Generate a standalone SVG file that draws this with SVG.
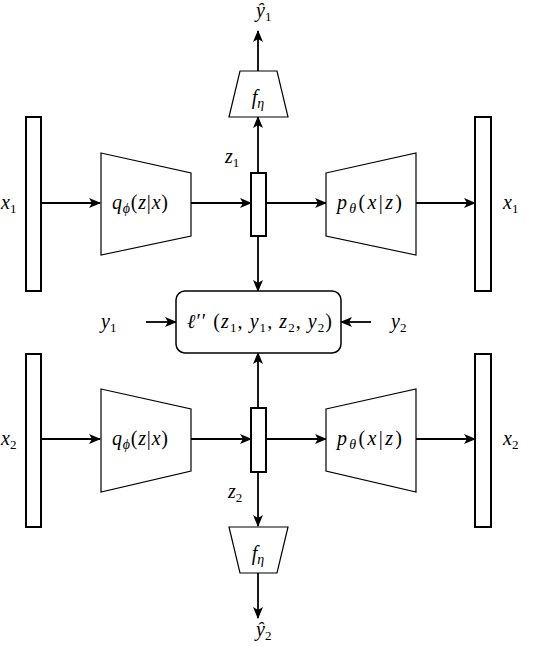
<svg xmlns="http://www.w3.org/2000/svg" width="548" height="646" viewBox="0 0 548 646">
<style>
.bar{fill:#fff;stroke:#000;stroke-width:2}
.trap{fill:#fff;stroke:#000;stroke-width:1.2;stroke-linejoin:miter}
.conn{fill:none;stroke:#000;stroke-width:1.8}
.lbl{font-family:"Liberation Serif",serif;font-size:20px;font-style:italic;fill:#000}
.sub{font-style:normal;font-size:13px}
.sg{font-style:italic;font-size:14px}
.up{font-style:normal}
</style>
<defs>
<marker id="ah" viewBox="0 0 12 10" refX="11" refY="5" markerWidth="12" markerHeight="10" markerUnits="userSpaceOnUse" orient="auto">
<path d="M0,0 L12,5 L0,10 L3,5 z" fill="#000"/>
</marker>
</defs>

<g id="connectors">
<line class="conn" x1="41" y1="203" x2="100" y2="203" marker-end="url(#ah)"/>
<line class="conn" x1="191" y1="203" x2="251" y2="203" marker-end="url(#ah)"/>
<line class="conn" x1="266" y1="203" x2="326" y2="203" marker-end="url(#ah)"/>
<line class="conn" x1="416" y1="203" x2="475" y2="203" marker-end="url(#ah)"/>
<line class="conn" x1="258" y1="173" x2="258" y2="117" marker-end="url(#ah)"/>
<line class="conn" x1="258" y1="71" x2="258" y2="31" marker-end="url(#ah)"/>
<line class="conn" x1="258" y1="236" x2="258" y2="291" marker-end="url(#ah)"/>
<line class="conn" x1="146" y1="322" x2="176" y2="322" marker-end="url(#ah)"/>
<line class="conn" x1="371" y1="322" x2="341" y2="322" marker-end="url(#ah)"/>
<line class="conn" x1="41" y1="439" x2="100" y2="439" marker-end="url(#ah)"/>
<line class="conn" x1="191" y1="439" x2="251" y2="439" marker-end="url(#ah)"/>
<line class="conn" x1="266" y1="439" x2="326" y2="439" marker-end="url(#ah)"/>
<line class="conn" x1="416" y1="439" x2="475" y2="439" marker-end="url(#ah)"/>
<line class="conn" x1="258" y1="408" x2="258" y2="353" marker-end="url(#ah)"/>
<line class="conn" x1="258" y1="472" x2="258" y2="526" marker-end="url(#ah)"/>
<line class="conn" x1="258" y1="573" x2="258" y2="618" marker-end="url(#ah)"/>
</g>

<g id="yhat1"><text class="lbl" x="256" y="17">ŷ<tspan class="sub" dy="4">1</tspan></text></g>
<g id="feta1">
<polygon class="trap" points="240,71 277,71 288,117 229,117"/>
<text class="lbl" x="258" y="104" text-anchor="middle">f<tspan class="sg" dy="4">η</tspan></text>
</g>

<g id="x1in">
<rect class="bar" x="26" y="117" width="15" height="174"/>
<text class="lbl" x="1" y="209">x<tspan class="sub" dy="4">1</tspan></text>
</g>
<g id="enc1">
<polygon class="trap" points="101,153 191,173 191,236 101,255"/>
<text class="lbl" x="112" y="209" textLength="56" lengthAdjust="spacing">q<tspan class="sg" dy="4">ϕ</tspan><tspan class="up" dy="-4">(</tspan>z<tspan class="up">|</tspan>x<tspan class="up">)</tspan></text>
</g>
<g id="z1">
<rect class="bar" x="251" y="173" width="15" height="63"/>
<text class="lbl" x="225" y="163">z<tspan class="sub" dy="4">1</tspan></text>
</g>
<g id="dec1">
<polygon class="trap" points="326,173 416,153 416,255 326,236"/>
<text class="lbl" x="337" y="209" textLength="65" lengthAdjust="spacing">p<tspan class="sg" dy="4">θ</tspan><tspan class="up" dy="-4">(</tspan>x<tspan class="up">|</tspan>z<tspan class="up">)</tspan></text>
</g>
<g id="x1out">
<rect class="bar" x="475" y="117" width="16" height="174"/>
<text class="lbl" x="503" y="209">x<tspan class="sub" dy="4">1</tspan></text>
</g>

<g id="loss">
<rect x="176" y="291" width="165" height="62" rx="9" ry="9" fill="#fff" stroke="#000" stroke-width="1.5"/>
<text class="lbl" x="187" y="328" textLength="145" lengthAdjust="spacing" font-size="21">ℓ<tspan class="up">′′ (</tspan>z<tspan class="sub" dy="4">1</tspan><tspan class="up" dy="-4">, </tspan>y<tspan class="sub" dy="4">1</tspan><tspan class="up" dy="-4">, </tspan>z<tspan class="sub" dy="4">2</tspan><tspan class="up" dy="-4">, </tspan>y<tspan class="sub" dy="4">2</tspan><tspan class="up" dy="-4">)</tspan></text>
</g>
<g id="y1"><text class="lbl" x="101" y="328">y<tspan class="sub" dy="4">1</tspan></text></g>
<g id="y2"><text class="lbl" x="391" y="328">y<tspan class="sub" dy="4">2</tspan></text></g>

<g id="x2in">
<rect class="bar" x="26" y="354" width="15" height="173"/>
<text class="lbl" x="1" y="445">x<tspan class="sub" dy="4">2</tspan></text>
</g>
<g id="enc2">
<polygon class="trap" points="101,389 191,409 191,471 101,492"/>
<text class="lbl" x="112" y="445" textLength="56" lengthAdjust="spacing">q<tspan class="sg" dy="4">ϕ</tspan><tspan class="up" dy="-4">(</tspan>z<tspan class="up">|</tspan>x<tspan class="up">)</tspan></text>
</g>
<g id="z2">
<rect class="bar" x="251" y="408" width="15" height="64"/>
<text class="lbl" x="228" y="498">z<tspan class="sub" dy="4">2</tspan></text>
</g>
<g id="dec2">
<polygon class="trap" points="326,409 416,389 416,492 326,471"/>
<text class="lbl" x="337" y="445" textLength="65" lengthAdjust="spacing">p<tspan class="sg" dy="4">θ</tspan><tspan class="up" dy="-4">(</tspan>x<tspan class="up">|</tspan>z<tspan class="up">)</tspan></text>
</g>
<g id="x2out">
<rect class="bar" x="475" y="354" width="16" height="173"/>
<text class="lbl" x="503" y="445">x<tspan class="sub" dy="4">2</tspan></text>
</g>

<g id="feta2">
<polygon class="trap" points="229,527 288,527 277,573 240,573"/>
<text class="lbl" x="258" y="560" text-anchor="middle">f<tspan class="sg" dy="4">η</tspan></text>
</g>
<g id="yhat2"><text class="lbl" x="256" y="636">ŷ<tspan class="sub" dy="4">2</tspan></text></g>
</svg>
